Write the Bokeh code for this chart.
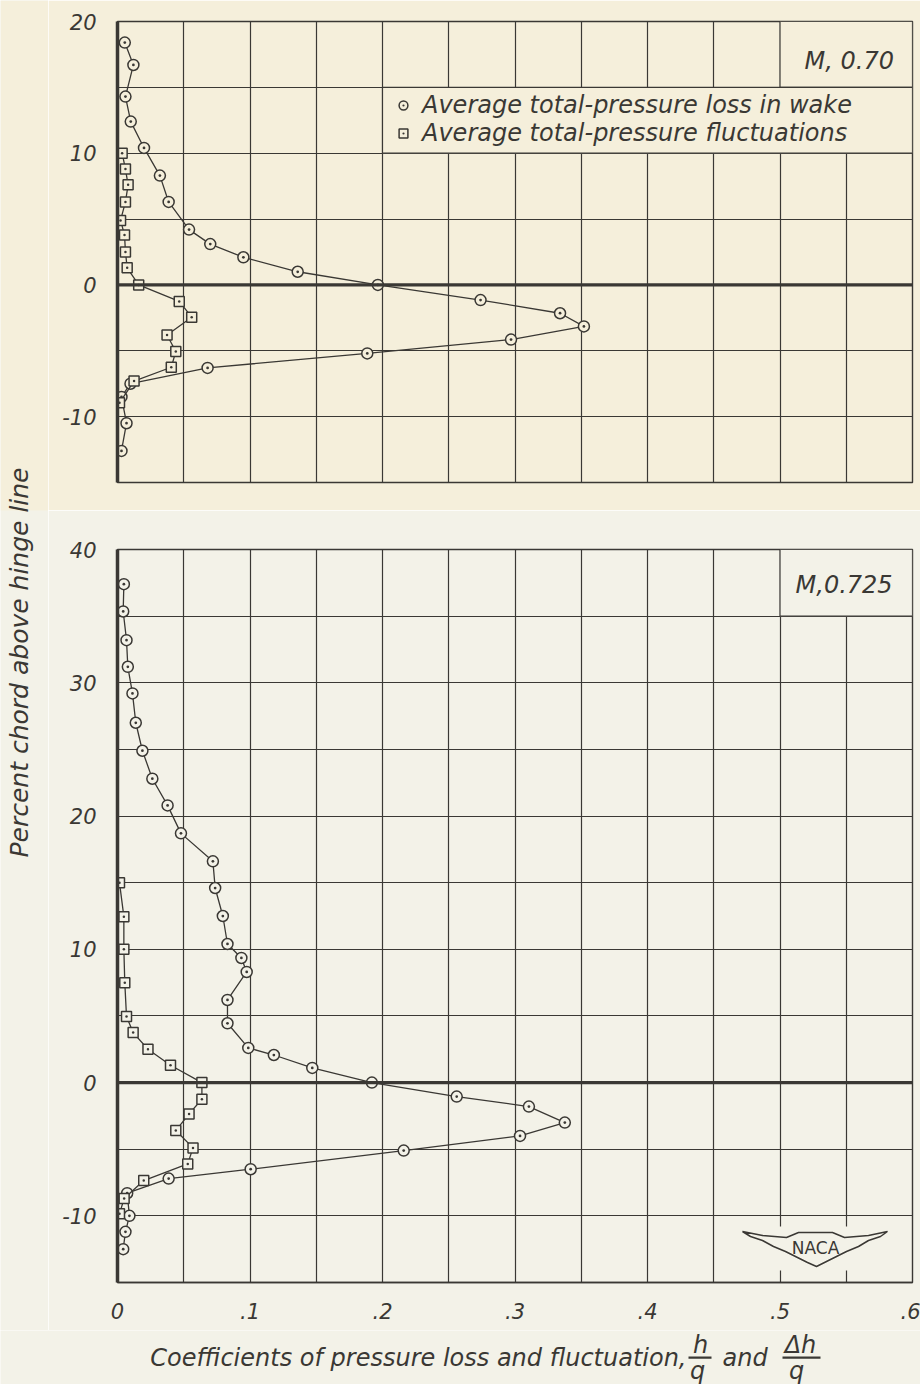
import math
from bokeh.plotting import figure
from bokeh.layouts import row, column
from bokeh.models import (Range1d, FixedTicker, Span, BoxAnnotation, Label,
                          Legend, LegendItem, PolyAnnotation)
from bokeh.embed import file_html
from bokeh.resources import INLINE

# ---------------- data ----------------
# M = 0.70 : average total-pressure loss in wake (h/q) vs percent chord
m70_loss_coef = [0.0055, 0.012, 0.006, 0.010, 0.020, 0.032, 0.0386, 0.054, 0.070, 0.095,
                 0.136, 0.1965, 0.274, 0.334, 0.352, 0.297, 0.1885, 0.068, 0.0098, 0.003,
                 0.0068, 0.003]
m70_loss_chord = [18.4, 16.7, 14.3, 12.4, 10.4, 8.3, 6.3, 4.2, 3.1, 2.1,
                  1.0, 0.0, -1.15, -2.15, -3.15, -4.15, -5.2, -6.3, -7.5, -8.5,
                  -10.5, -12.6]
# M = 0.70 : average total-pressure fluctuations (delta h / q)
m70_fluct_coef = [0.0035, 0.006, 0.008, 0.006, 0.0023, 0.0053, 0.006, 0.0073, 0.016,
                  0.0466, 0.056, 0.0374, 0.044, 0.0406, 0.0125, 0.0015]
m70_fluct_chord = [10.0, 8.8, 7.6, 6.3, 4.9, 3.8, 2.5, 1.3, 0.0,
                   -1.25, -2.45, -3.8, -5.05, -6.25, -7.3, -8.95]

# M = 0.725 : loss
m725_loss_coef = [0.0048, 0.0043, 0.0068, 0.0078, 0.0113, 0.0138, 0.0188, 0.0263, 0.0378,
                  0.0479, 0.072, 0.0737, 0.0795, 0.083, 0.0935, 0.0975, 0.083, 0.083,
                  0.0987, 0.118, 0.147, 0.192, 0.256, 0.3105, 0.3376, 0.3038, 0.216,
                  0.1005, 0.0386, 0.0073, 0.009, 0.006, 0.0043]
m725_loss_chord = [37.4, 35.35, 33.2, 31.2, 29.2, 27.0, 24.9, 22.8, 20.8,
                   18.7, 16.6, 14.6, 12.5, 10.4, 9.35, 8.3, 6.2, 4.45,
                   2.6, 2.07, 1.1, 0.0, -1.05, -1.8, -3.0, -4.0, -5.1,
                   -6.5, -7.2, -8.3, -10.0, -11.2, -12.5]
# M = 0.725 : fluctuations
m725_fluct_coef = [0.0015, 0.0048, 0.0048, 0.0055, 0.0068, 0.0118, 0.023, 0.040, 0.0637,
                   0.0637, 0.054, 0.044, 0.057, 0.053, 0.0198, 0.005, 0.0015]
m725_fluct_chord = [15.0, 12.45, 10.0, 7.5, 4.95, 3.75, 2.5, 1.3, 0.0,
                    -1.25, -2.35, -3.6, -4.9, -6.1, -7.35, -8.7, -9.85]

x_ticks = [0, 0.1, 0.2, 0.3, 0.4, 0.5, 0.6]
x_tick_labels = ["0", ".1", ".2", ".3", ".4", ".5", ".6"]
top_y_ticks = [20, 10, 0, -10]
bot_y_ticks = [40, 30, 20, 10, 0, -10]
legend_labels = ["Average total-pressure loss in wake",
                 "Average total-pressure fluctuations"]
panel_titles = ["M, 0.70", "M,0.725"]

# ---------------- style ----------------
INK = "#3a3834"
BG_TOP = "#f5efdb"
BG_BOT = "#f3f2e8"
FONT = "DejaVu Sans"
LABEL_W = 48
MAIN_W = 920 - LABEL_W
TOP_H = 510
TITLE_Y0 = 1330
BOT_H = TITLE_Y0 - TOP_H
TITLE_H = 1384 - TITLE_Y0
XGRID = [round(0.05 * i, 2) for i in range(13)]


def make_panel(height, y0, y1, bg, mb_top, mb_bottom, yticks, show_x):
    p = figure(width=MAIN_W, height=height, x_range=Range1d(0, 0.6),
               y_range=Range1d(y0, y1), output_backend="svg", toolbar_location=None,
               min_border_left=117 - LABEL_W, min_border_right=8,
               min_border_top=mb_top, min_border_bottom=mb_bottom)
    p.background_fill_color = bg
    p.border_fill_color = bg
    p.outline_line_color = INK
    p.outline_line_width = 1.4
    p.xgrid.ticker = FixedTicker(ticks=XGRID)
    p.ygrid.ticker = FixedTicker(ticks=list(range(int(y0), int(y1) + 1, 5)))
    p.grid.grid_line_color = INK
    p.grid.grid_line_width = 1.2
    p.grid.grid_line_alpha = 1.0

    p.yaxis.ticker = FixedTicker(ticks=yticks)
    p.yaxis.major_label_overrides = {t: str(t) for t in yticks}
    p.yaxis.axis_line_color = INK
    p.yaxis.axis_line_width = 3.5
    p.yaxis.major_tick_line_color = None
    p.yaxis.minor_tick_line_color = None
    p.yaxis.major_label_standoff = 15
    p.yaxis.major_label_text_font = FONT
    p.yaxis.major_label_text_font_style = "italic"
    p.yaxis.major_label_text_font_size = "21px"
    p.yaxis.major_label_text_color = INK

    if show_x:
        p.xaxis.ticker = FixedTicker(ticks=x_ticks)
        p.xaxis.major_label_overrides = dict(zip(x_ticks, x_tick_labels))
        p.xaxis.axis_line_color = INK
        p.xaxis.axis_line_width = 1.4
        p.xaxis.major_tick_line_color = None
        p.xaxis.minor_tick_line_color = None
        p.xaxis.major_label_standoff = 14
        p.xaxis.major_label_text_font = FONT
        p.xaxis.major_label_text_font_style = "italic"
        p.xaxis.major_label_text_font_size = "21px"
        p.xaxis.major_label_text_color = INK
    else:
        p.xaxis.visible = False

    p.add_layout(Span(location=0, dimension="width", line_color=INK, line_width=3.2))
    return p


def add_series(p, xs, ys, marker, size, bg):
    p.line(xs, ys, line_color=INK, line_width=1.3)
    return p.scatter(xs, ys, marker=marker, size=size, fill_color=bg,
                     line_color=INK, line_width=1.5)


def clear_box(p, bg, **kw):
    p.add_layout(BoxAnnotation(fill_color=bg, fill_alpha=1, line_color=INK,
                               line_alpha=1, line_width=1.2, **kw))


# ---------------- top panel (M = 0.70) ----------------
top = make_panel(TOP_H, -15, 20, BG_TOP, 21, 28, top_y_ticks, False)
r_loss = add_series(top, m70_loss_coef, m70_loss_chord, "circle_dot", 11, BG_TOP)
r_fl = add_series(top, m70_fluct_coef, m70_fluct_chord, "square_dot", 10, BG_TOP)

clear_box(top, BG_TOP, left=0.5, right=0.6, bottom=15, top=20)
clear_box(top, BG_TOP, left=0.2, right=0.6, bottom=10, top=15)
top.add_layout(Label(x=0.586, y=17.0, text=panel_titles[0], text_align="right",
                     text_baseline="middle", text_font=FONT, text_font_style="italic",
                     text_font_size="24px", text_color=INK))

legend = Legend(items=[LegendItem(label=legend_labels[0], renderers=[r_loss]),
                       LegendItem(label=legend_labels[1], renderers=[r_fl])],
                location=(275, 335), orientation="vertical")
legend.label_text_font = FONT
legend.label_text_font_style = "italic"
legend.label_text_font_size = "24px"
legend.label_text_color = INK
legend.glyph_width = 22
legend.glyph_height = 22
legend.label_height = 28
legend.label_standoff = 8
legend.spacing = 0
legend.padding = 0
legend.margin = 0
legend.background_fill_alpha = 0
legend.border_line_alpha = 0
top.add_layout(legend)

# ---------------- bottom panel (M = 0.725) ----------------
bot = make_panel(BOT_H, -15, 40, BG_BOT, 39, TITLE_Y0 - 1282, bot_y_ticks, True)
add_series(bot, m725_loss_coef, m725_loss_chord, "circle_dot", 11, BG_BOT)
add_series(bot, m725_fluct_coef, m725_fluct_chord, "square_dot", 10, BG_BOT)

clear_box(bot, BG_BOT, left=0.5, right=0.6, bottom=35, top=40)
bot.add_layout(Label(x=0.585, y=37.3, text=panel_titles[1], text_align="right",
                     text_baseline="middle", text_font=FONT, text_font_style="italic",
                     text_font_size="24px", text_color=INK))

# page-pixel -> bottom-panel data helpers (for the logo decoration only)
FR_L, FR_R, FR_T, FR_B = 117, 912, 549, 1282


def bx(px):
    return (px - FR_L) * 0.6 / (FR_R - FR_L)


def by(py):
    return (FR_B - py) * 55.0 / (FR_B - FR_T) - 15


# NACA wing logo
bot.add_layout(BoxAnnotation(left=bx(733), right=bx(899), top=by(1226), bottom=by(1270),
                             fill_color=BG_BOT, fill_alpha=1, line_alpha=0))
wing_px = [(742, 1231), (762, 1235), (786, 1237), (798, 1232), (832, 1232), (844, 1237),
           (868, 1235), (887, 1231), (880, 1236), (868, 1240), (858, 1246), (846, 1251),
           (834, 1257), (824, 1262), (816, 1266), (807, 1262), (797, 1257), (785, 1251),
           (773, 1246), (762, 1240), (750, 1236)]
bot.add_layout(PolyAnnotation(xs=[bx(a) for a, b in wing_px], ys=[by(b) for a, b in wing_px],
                              fill_alpha=0, line_color=INK, line_alpha=1, line_width=1.5))
bot.add_layout(Label(x=bx(815), y=by(1247), text="NACA", text_align="center",
                     text_baseline="middle", text_font=FONT, text_font_size="17px",
                     text_color=INK))

# ---------------- y-axis title strip ----------------
lab = figure(width=LABEL_W, height=TITLE_Y0, x_range=Range1d(0, LABEL_W),
             y_range=Range1d(TITLE_Y0, 0), output_backend="svg", toolbar_location=None,
             min_border=0, min_border_left=0, min_border_right=0, min_border_top=0,
             min_border_bottom=0)
lab.axis.visible = False
lab.grid.visible = False
lab.outline_line_color = None
lab.background_fill_color = BG_BOT
lab.border_fill_color = BG_BOT
lab.add_layout(BoxAnnotation(left=0, right=LABEL_W, top=0, bottom=TOP_H, fill_color=BG_TOP,
                             fill_alpha=1, line_alpha=0))
lab.add_layout(Label(x=19, y=662, text="Percent chord above hinge line", angle=math.pi / 2,
                     text_align="center", text_baseline="middle", text_font=FONT,
                     text_font_style="italic", text_font_size="25px", text_color=INK))

# ---------------- x-axis title strip (page pixels) ----------------
ttl = figure(width=920, height=TITLE_H, x_range=Range1d(0, 920),
             y_range=Range1d(1384, TITLE_Y0), output_backend="svg", toolbar_location=None,
             min_border=0, min_border_left=0, min_border_right=0, min_border_top=0,
             min_border_bottom=0)
ttl.axis.visible = False
ttl.grid.visible = False
ttl.outline_line_color = None
ttl.background_fill_color = BG_BOT
ttl.border_fill_color = BG_BOT
title_kw = dict(text_font=FONT, text_font_style="italic", text_font_size="24px",
                text_color=INK, text_baseline="middle")
SH = -40
ttl.add_layout(Label(x=726 + SH, y=1357, text="Coefficients of pressure loss and fluctuation,",
                     text_align="right", **title_kw))
ttl.add_layout(Label(x=740 + SH, y=1344, text="h", text_align="center", **title_kw))
ttl.add_layout(Label(x=737 + SH, y=1370, text="q", text_align="center", **title_kw))
ttl.add_layout(BoxAnnotation(left=728 + SH, right=751 + SH, top=1356, bottom=1358.2,
                             fill_color=INK, fill_alpha=1, line_alpha=0))
ttl.add_layout(Label(x=762 + SH, y=1357, text="and", text_align="left", **title_kw))
ttl.add_layout(Label(x=840 + SH, y=1344, text="Δh", text_align="center", **title_kw))
ttl.add_layout(Label(x=836 + SH, y=1370, text="q", text_align="center", **title_kw))
ttl.add_layout(BoxAnnotation(left=822 + SH, right=860 + SH, top=1356, bottom=1358.2,
                             fill_color=INK, fill_alpha=1, line_alpha=0))

layout = column(row(lab, column(top, bot, spacing=0), spacing=0), ttl, spacing=0)
open("out.html", "w").write(file_html(layout, INLINE))
